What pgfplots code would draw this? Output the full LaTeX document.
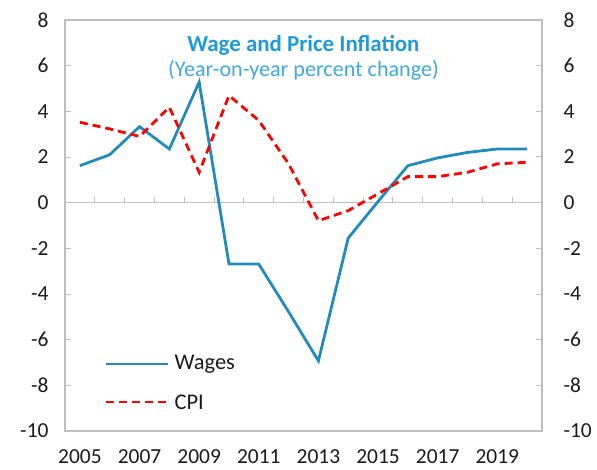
\documentclass[border=0pt]{standalone}
\usepackage{pgfplots}
\pgfplotsset{compat=1.18}
\usepackage{fontspec}
\setmainfont{Carlito}
\definecolor{wagec}{HTML}{218CBA}
\definecolor{titlec}{HTML}{1E9BD7}
\definecolor{subc}{HTML}{3FA9E0}
\definecolor{framec}{HTML}{BFBFBF}
\definecolor{tickc}{HTML}{1A1A1A}
\begin{document}
\begin{tikzpicture}
\path[use as bounding box] (-65bp,-39bp) rectangle (532bp,431bp);
\begin{axis}[
  at={(0,0)}, anchor=south west,
  scale only axis, width=477bp, height=411bp,
  xmin=-0.5, xmax=15.5, ymin=-10, ymax=8,
  xtick={0,2,...,14},
  xticklabels={2005,2007,2009,2011,2013,2015,2017,2019},
  ytick={-10,-8,...,8},
  xticklabel style={font=\fontsize{21.5}{22}\selectfont, text=tickc, yshift=-15bp},
  yticklabel style={font=\fontsize{21.5}{22}\selectfont, text=tickc, xshift=-13bp},
  /pgf/number format/assume math mode=true,
  x tick style={draw=none},
  y tick style={draw=framec, line width=1pt},
  ytick pos=left, tick align=inside, major tick length=6bp,
  axis line style={draw=framec, line width=1.2pt},
  clip=false,
]
\draw[framec, line width=1.2pt] (axis cs:-0.5,0) -- (axis cs:15.5,0);
\pgfplotsinvokeforeach{0.5,1.5,...,14.5}{
  \draw[framec, line width=1pt] (axis cs:#1,0) -- (axis cs:#1,0.26);
}
\addplot[wagec, line width=2.8pt] table {
x y
0 1.62
1 2.1
2 3.33
3 2.35
4 5.28
5 -2.69
6 -2.69
7 -4.78
8 -6.93
9 -1.55
10 0.05
11 1.62
12 1.96
13 2.2
14 2.35
15 2.35
};
\addplot[red, line width=2.8pt, dash pattern=on 8bp off 5bp] table {
x y
0 3.52
1 3.23
2 2.9
3 4.18
4 1.33
5 4.69
6 3.6
7 1.7
8 -0.79
9 -0.35
10 0.39
11 1.14
12 1.14
13 1.33
14 1.7
15 1.77
};
\node[font=\fontsize{23}{24}\selectfont\bfseries, text=titlec] at (axis cs:7.5,6.9) {Wage and Price Inflation};
\node[font=\fontsize{22.2}{24}\selectfont, text=subc] at (axis cs:7.5,5.8) {(Year-on-year percent change)};
\draw[wagec, line width=2.8pt] (rel axis cs:0.086,0.163) -- (rel axis cs:0.2159,0.163) node[right, text=tickc, font=\fontsize{22.5}{24}\selectfont, xshift=2bp] {Wages};
\draw[red, line width=2.8pt, dash pattern=on 8bp off 5bp] (rel axis cs:0.086,0.0706) -- (rel axis cs:0.2159,0.0706) node[right, text=tickc, font=\fontsize{22.5}{24}\selectfont, xshift=2bp] {CPI};
\end{axis}
\begin{axis}[
  at={(0,0)}, anchor=south west,
  scale only axis, width=477bp, height=411bp,
  xmin=-0.5, xmax=15.5, ymin=-10, ymax=8,
  axis x line=none, axis y line*=right,
  ytick={-10,-8,...,8},
  yticklabel style={font=\fontsize{21.5}{22}\selectfont, text=tickc, xshift=18bp},
  /pgf/number format/assume math mode=true,
  y tick style={draw=framec, line width=1pt},
  tick align=inside, major tick length=6bp,
  axis line style={draw=framec, line width=1.2pt},
]
\end{axis}
\end{tikzpicture}
\end{document}
